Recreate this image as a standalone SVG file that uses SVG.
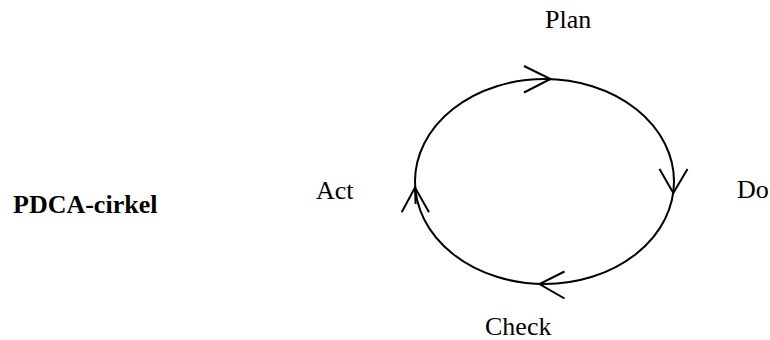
<svg xmlns="http://www.w3.org/2000/svg" width="770" height="340" viewBox="0 0 770 340">
<style>
.t{font-family:"Liberation Serif","Times New Roman",serif;font-size:26px;fill:#000}
.b{font-weight:bold}
.ln{fill:none;stroke:#000;stroke-width:2;stroke-linecap:butt;stroke-linejoin:miter}
</style>
<rect width="770" height="340" fill="#fff"/>
<g id="title"><text class="t b" x="13" y="213">PDCA-cirkel</text></g>
<g id="connectors">
<ellipse class="ln" cx="544.5" cy="181.5" rx="129.5" ry="102.5"/>
<polyline class="ln" points="524,66 550.5,79 524,92.5"/>
<polyline class="ln" points="659.5,169 673.3,193 687.5,169"/>
<polyline class="ln" points="564.5,271.5 539.5,284 564.5,298.5"/>
<polyline class="ln" points="401.7,212.3 415,187.5 429,212.3"/>
<line class="ln" x1="415" y1="187.5" x2="415.6" y2="204"/>
</g>
<g id="plan"><text class="t" x="545" y="28">Plan</text></g>
<g id="do"><text class="t" x="737" y="198">Do</text></g>
<g id="check"><text class="t" x="485" y="334.5">Check</text></g>
<g id="act"><text class="t" x="316" y="199">Act</text></g>
</svg>
